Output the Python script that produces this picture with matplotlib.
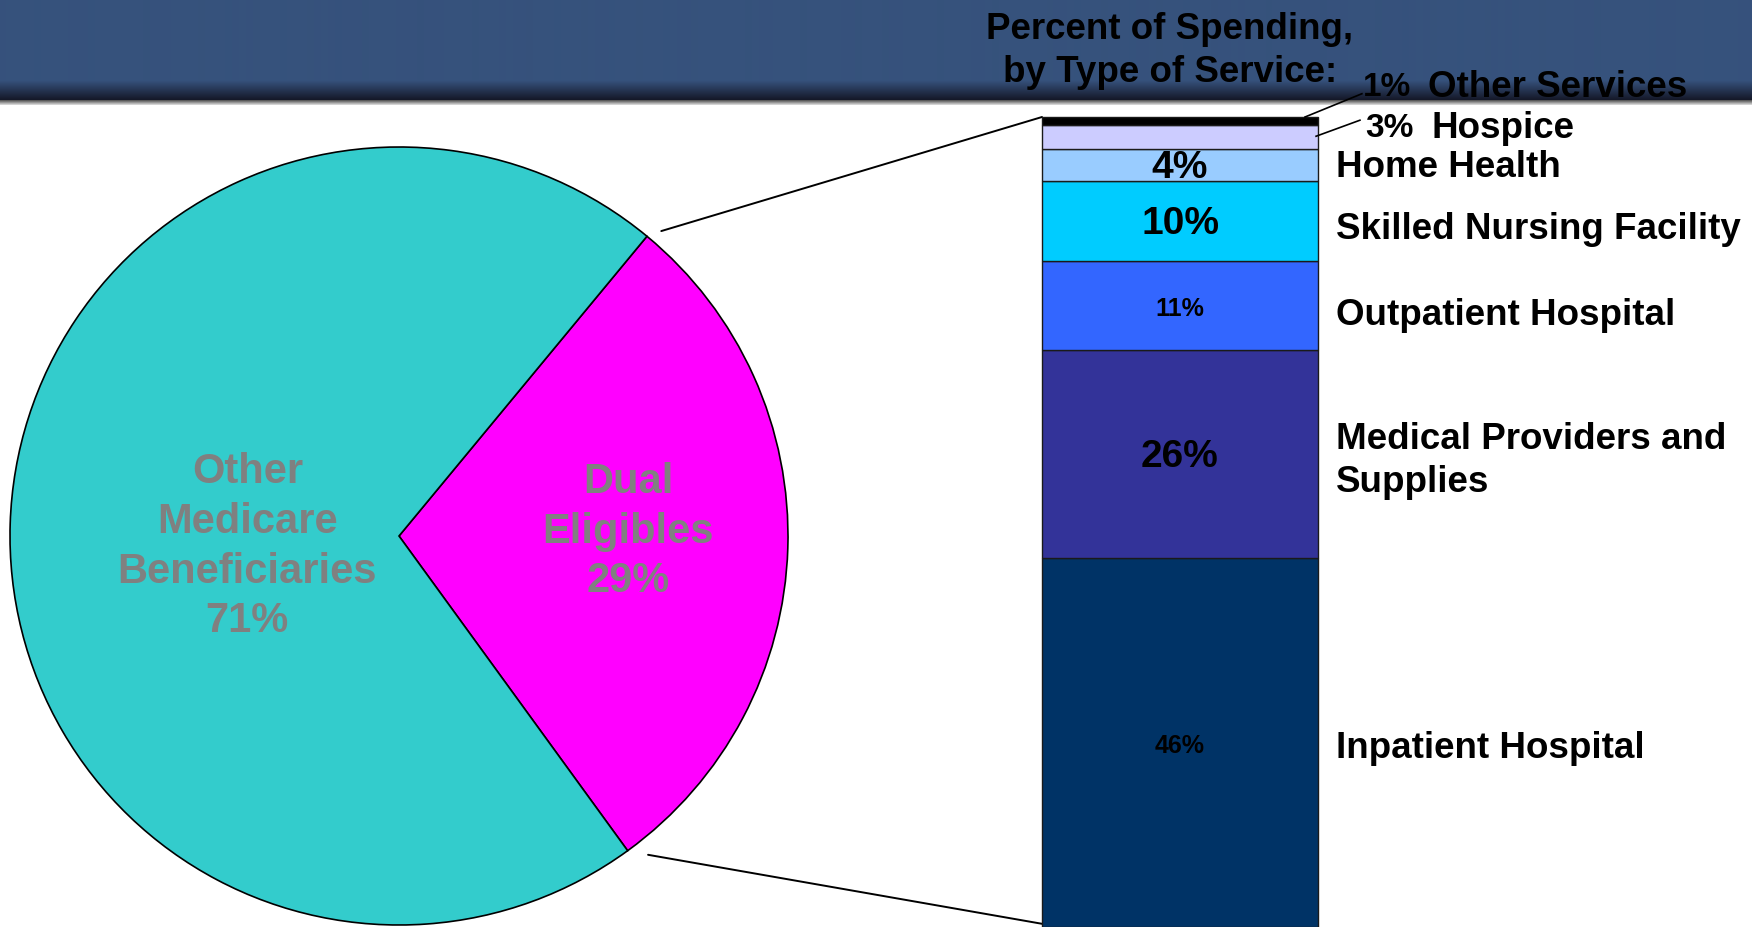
import numpy as np
import matplotlib.pyplot as plt
import matplotlib.transforms as mtransforms
from matplotlib.colors import to_rgb
from matplotlib.patches import ConnectionPatch

plt.rcParams['font.family'] = ['Liberation Sans', 'DejaVu Sans']
plt.rcParams['font.weight'] = 'bold'

# share of Medicare spending by beneficiary group
pie_labels = ['Dual\nEligibles', 'Other\nMedicare\nBeneficiaries']
pie_shares = [29, 71]
pie_colors = ['#FF00FF', '#33CCCC']

# dual eligible spending by type of service, bottom to top
services = ['Inpatient Hospital', 'Medical Providers and\nSupplies', 'Outpatient Hospital',
            'Skilled Nursing Facility', 'Home Health', 'Hospice', 'Other Services']
service_pct = [46, 26, 11, 10, 4, 3, 1]
service_colors = ['#003366', '#333399', '#3366FF', '#00CCFF', '#99CCFF', '#CCCCFF', '#000000']

W, H = 1752, 927
fig = plt.figure(figsize=(W / 100, H / 100), dpi=100)


def fx(px):
    return px / W


def fy(py):
    return 1 - py / H


# header band: flat blue, darkening toward the bottom, then a grey shadow
rows = 107
blue = np.array(to_rgb('#36527C'))
dark = np.array(to_rgb('#151929'))
band = np.ones((rows, 1, 3))
for r in range(rows):
    if r < 80:
        band[r, 0] = blue
    elif r < 100:
        t = (r - 80) / 19
        band[r, 0] = blue * (1 - t) + dark * t
    elif r < 105:
        g = 0.35 + 0.12 * (r - 100)
        band[r, 0] = (g, g, g)
hdr = fig.add_axes([0, fy(rows), 1, rows / H], zorder=0)
hdr.imshow(band, aspect='auto', extent=(0, 1, 0, 1), interpolation='bilinear')
hdr.axis('off')

# pie
R, cx, cy = 389, 399, 536
ax_pie = fig.add_axes([fx(cx - R), fy(cy + R), 2 * R / W, 2 * R / H], zorder=1)
wedges, _ = ax_pie.pie(pie_shares, colors=pie_colors, startangle=-54, counterclock=True,
                       wedgeprops=dict(edgecolor='black', linewidth=1.2))
for w in wedges:
    w.set_clip_on(False)
ax_pie.set_xlim(-1, 1)
ax_pie.set_ylim(-1, 1)
ax_pie.axis('off')

label_dist = [0.59, 0.39]
label_dy = [0.03, -0.04]
for w, lab, share, d, dy in zip(wedges, pie_labels, pie_shares, label_dist, label_dy):
    mid = np.deg2rad((w.theta1 + w.theta2) / 2)
    ax_pie.text(d * np.cos(mid), d * np.sin(mid) + dy, f'{lab}\n{share}%', ha='center',
                va='center', fontsize=30, color='#808080', linespacing=1.31)

# stacked bar of spending by service
ax_bar = fig.add_axes([fx(1042), 0, (1318 - 1042) / W, (927 - 117) / H], zorder=1)
bottoms = np.concatenate([[0], np.cumsum(service_pct)[:-1]])
total = sum(service_pct)
bars = ax_bar.bar(0, service_pct, bottom=bottoms, width=1, color=service_colors,
                  edgecolor='#1a1a1a', linewidth=1)
for b in bars:
    b.set_clip_on(False)
ax_bar.set_xlim(-0.5, 0.5)
ax_bar.set_ylim(0, total)
ax_bar.axis('off')

# values inside the larger segments
inside_sizes = [18, 28, 18, 28, 28]
for i, fs in enumerate(inside_sizes):
    ax_bar.text(0, bottoms[i] + service_pct[i] / 2 - 0.4, f'{service_pct[i]}%', ha='center',
                va='center', fontsize=fs, color='black')

# service names to the right of the bar
side = mtransforms.blended_transform_factory(ax_bar.transAxes, ax_bar.transData)
label_y = [22.3, 58.1, 76.2, 87.0, 94.7, 99.6, 104.7]
for name, y in zip(services[:5], label_y[:5]):
    ax_bar.text(1.065, y, name, transform=side, ha='left', va='center', fontsize=26.5,
                linespacing=1.31)

# the two thin slices get pulled-out labels with leaders
small = [(5, 1.17, 1.41, (0.993, 98.6), (1.152, 100.6)),
         (6, 1.163, 1.399, (0.953, 101.0), (1.159, 103.9))]
for i, xp, xn, p0, p1 in small:
    ax_bar.text(xp, label_y[i], f'{service_pct[i]}%', transform=side, ha='left', va='center',
                fontsize=24)
    ax_bar.text(xn, label_y[i], services[i], transform=side, ha='left', va='center',
                fontsize=26.5)
    ax_bar.plot([p0[0], p1[0]], [p0[1], p1[1]], transform=side, color='black', lw=1.2,
                clip_on=False)

# lines joining the dual eligible slice to the bar
dual = wedges[0]
a_top = np.deg2rad(dual.theta2 - 1.1)
a_bot = np.deg2rad(dual.theta1 + 2.0)
for ang, rr, yb in [(a_top, 1.034, total), (a_bot, 1.04, 0.4)]:
    con = ConnectionPatch(xyA=(rr * np.cos(ang), rr * np.sin(ang)), coordsA=ax_pie.transData,
                          xyB=(-0.5, yb), coordsB=ax_bar.transData, color='black', lw=1.4)
    fig.add_artist(con)

fig.text(fx(1170), fy(51), 'Percent of Spending,\nby Type of Service:', ha='center',
         va='center', fontsize=26.5, linespacing=1.31)

fig.savefig('out.png', dpi=100)
